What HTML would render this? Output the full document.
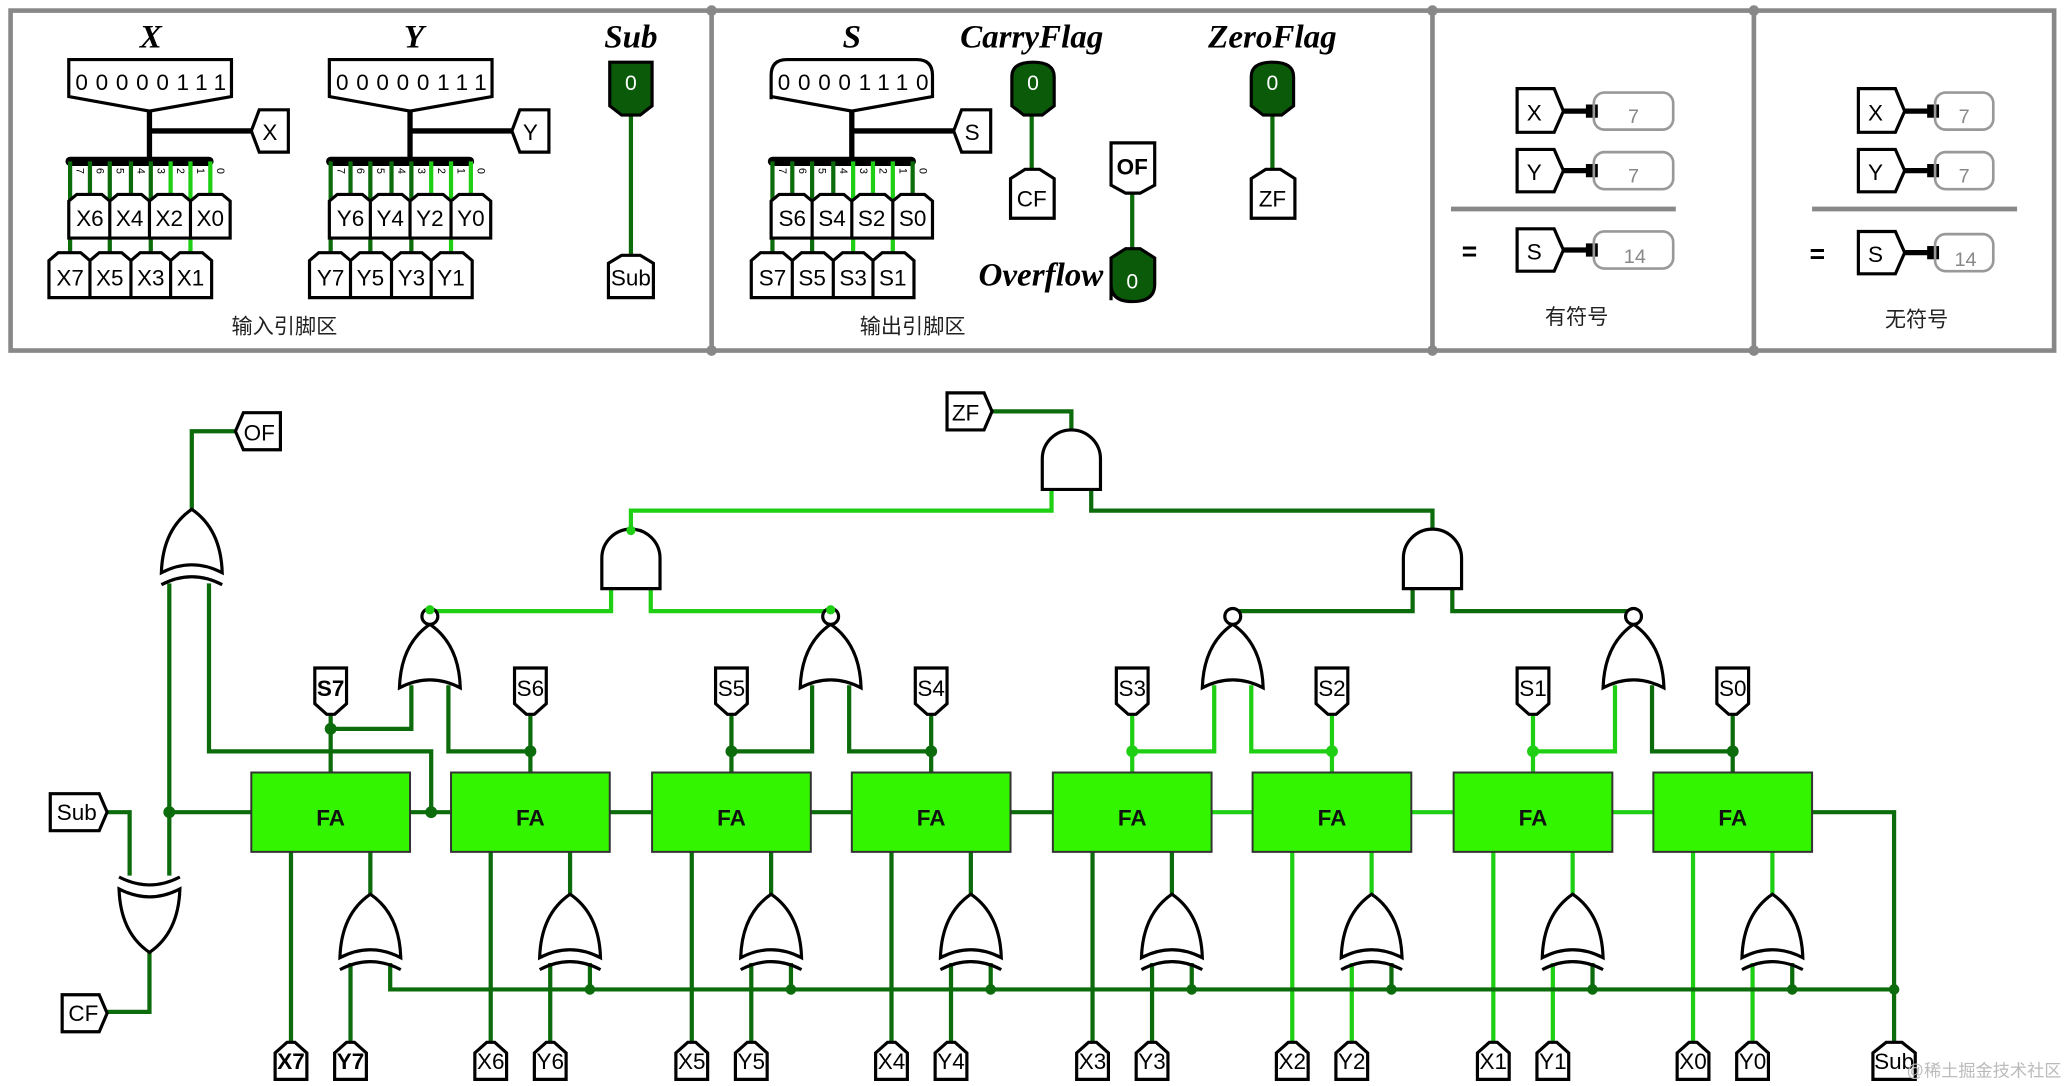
<!DOCTYPE html>
<html><head><meta charset="utf-8"><style>
html,body{margin:0;padding:0;background:#fff;}
svg{display:block;}
text{font-family:"Liberation Sans","Noto Sans CJK SC",sans-serif;}
.t{font-family:"Liberation Serif",serif;font-style:italic;font-weight:bold;font-size:25px;}
.p{font-size:17px;}
.d{stroke:#0c6c0c;stroke-width:3.2;fill:none;}
.b{stroke:#1ecf14;stroke-width:3.2;fill:none;}
.k{stroke:#000;stroke-width:2.4;fill:#fff;}
.bk{stroke:#000;stroke-width:4;fill:none;}
.fa{fill:#33f500;stroke:#333;stroke-width:1.5;}
.g{fill:#fff;stroke:#000;stroke-width:2.4;}
.n{font-size:8px;}
</style></head><body>
<svg width="2070" height="1086" viewBox="0 0 1565 821" preserveAspectRatio="none" xmlns="http://www.w3.org/2000/svg">
<defs>
<path id="or" d="M-23,48 Q0,36 23,48 Q22,15 0,0 Q-22,15 -23,48Z"/>
<path id="xa" d="M-23,57 Q0,45 23,57"/>
<path id="and" d="M-22,45 V22 A22,22 0 0 1 22,22 V45 Z"/>
</defs>
<!-- panel frame -->
<g stroke="#888" stroke-width="3.5" fill="none">
<rect x="8" y="8" width="1545" height="257"/>
<line x1="538" y1="8" x2="538" y2="265"/><line x1="1083" y1="8" x2="1083" y2="265"/><line x1="1326" y1="8" x2="1326" y2="265"/>
</g>
<g fill="#888"><circle cx="538" cy="8" r="4"/><circle cx="538" cy="265" r="4"/><circle cx="1083" cy="8" r="4"/><circle cx="1083" cy="265" r="4"/><circle cx="1326" cy="8" r="4"/><circle cx="1326" cy="265" r="4"/></g>

<!-- Panel 1 titles -->
<text class="t" x="114" y="36" text-anchor="middle">X</text>
<text class="t" x="313" y="36" text-anchor="middle">Y</text>
<text class="t" x="477" y="36" text-anchor="middle">Sub</text>
<text class="t" x="644" y="36" text-anchor="middle">S</text>
<text class="t" x="780" y="36" text-anchor="middle">CarryFlag</text>
<text class="t" x="962" y="36" text-anchor="middle">ZeroFlag</text>
<text class="t" x="787" y="216" text-anchor="middle">Overflow</text>

<!-- X group -->
<g>
<path class="k" d="M52,45 H175 V73 L113,84 L52,73 Z"/>
<text x="114" y="68" font-size="17" text-anchor="middle" textLength="114">00000111</text>
<path class="bk" d="M113,84 V122 M113,99 H190"/>
<path class="k" d="M190,99 L196,83 H218 V115 H196 Z"/><text class="p" x="204" y="106" text-anchor="middle">X</text>
<path stroke="#000" stroke-width="7" stroke-linecap="round" d="M53,122 H158"/>
<path class="d" d="M53,122 V191 M68,122 V147 M83,122 V191 M99,122 V147 M114,122 V191"/>
<path class="b" d="M129,122 V147 M144,122 V191 M159,122 V147"/>
<g class="n"><text x="56" y="129" transform="rotate(90 58 129)">7</text><text x="71" y="129" transform="rotate(90 73 129)">6</text><text x="86" y="129" transform="rotate(90 88 129)">5</text><text x="102" y="129" transform="rotate(90 104 129)">4</text><text x="117" y="129" transform="rotate(90 119 129)">3</text><text x="132" y="129" transform="rotate(90 134 129)">2</text><text x="147" y="129" transform="rotate(90 149 129)">1</text><text x="162" y="129" transform="rotate(90 164 129)">0</text></g>
<path class="k" d="M52,180 V152 L58,147 H77 L83,152 V180Z M83,180 V152 L89,147 H107 L113,152 V180Z M113,180 V152 L119,147 H138 L144,152 V180Z M144,180 V152 L150,147 H168 L174,152 V180Z"/>
<text class="p" x="68" y="171" text-anchor="middle">X6</text><text class="p" x="98" y="171" text-anchor="middle">X4</text><text class="p" x="128" y="171" text-anchor="middle">X2</text><text class="p" x="159" y="171" text-anchor="middle">X0</text>
<path class="k" d="M37,225 V197 L44,191 H61 L68,197 V225Z M68,225 V197 L75,191 H92 L99,197 V225Z M99,225 V197 L106,191 H122 L129,197 V225Z M129,225 V197 L136,191 H153 L160,197 V225Z"/>
<text class="p" x="53" y="216" text-anchor="middle">X7</text><text class="p" x="83" y="216" text-anchor="middle">X5</text><text class="p" x="114" y="216" text-anchor="middle">X3</text><text class="p" x="144" y="216" text-anchor="middle">X1</text>
</g>
<!-- Y group -->
<g transform="translate(197,0)">
<path class="k" d="M52,45 H175 V73 L113,84 L52,73 Z"/>
<text x="114" y="68" font-size="17" text-anchor="middle" textLength="114">00000111</text>
<path class="bk" d="M113,84 V122 M113,99 H190"/>
<path class="k" d="M190,99 L196,83 H218 V115 H196 Z"/><text class="p" x="204" y="106" text-anchor="middle">Y</text>
<path stroke="#000" stroke-width="7" stroke-linecap="round" d="M53,122 H158"/>
<path class="d" d="M53,122 V191 M68,122 V147 M83,122 V191 M99,122 V147 M114,122 V191"/>
<path class="b" d="M129,122 V147 M144,122 V191 M159,122 V147"/>
<g class="n"><text x="56" y="129" transform="rotate(90 58 129)">7</text><text x="71" y="129" transform="rotate(90 73 129)">6</text><text x="86" y="129" transform="rotate(90 88 129)">5</text><text x="102" y="129" transform="rotate(90 104 129)">4</text><text x="117" y="129" transform="rotate(90 119 129)">3</text><text x="132" y="129" transform="rotate(90 134 129)">2</text><text x="147" y="129" transform="rotate(90 149 129)">1</text><text x="162" y="129" transform="rotate(90 164 129)">0</text></g>
<path class="k" d="M52,180 V152 L58,147 H77 L83,152 V180Z M83,180 V152 L89,147 H107 L113,152 V180Z M113,180 V152 L119,147 H138 L144,152 V180Z M144,180 V152 L150,147 H168 L174,152 V180Z"/>
<text class="p" x="68" y="171" text-anchor="middle">Y6</text><text class="p" x="98" y="171" text-anchor="middle">Y4</text><text class="p" x="128" y="171" text-anchor="middle">Y2</text><text class="p" x="159" y="171" text-anchor="middle">Y0</text>
<path class="k" d="M37,225 V197 L44,191 H61 L68,197 V225Z M68,225 V197 L75,191 H92 L99,197 V225Z M99,225 V197 L106,191 H122 L129,197 V225Z M129,225 V197 L136,191 H153 L160,197 V225Z"/>
<text class="p" x="53" y="216" text-anchor="middle">Y7</text><text class="p" x="83" y="216" text-anchor="middle">Y5</text><text class="p" x="114" y="216" text-anchor="middle">Y3</text><text class="p" x="144" y="216" text-anchor="middle">Y1</text>
</g>
<!-- Sub -->
<path class="d" d="M477,87 V193"/>
<path d="M461,80 V47 H493 V80 L484,87 H470 Z" fill="#0a5a0a" stroke="#000" stroke-width="2.4"/>
<text x="477" y="68" font-size="16" fill="#fff" text-anchor="middle">0</text>
<path class="k" d="M460,225 V199 L470,193 H484 L494,199 V225 Z"/><text class="p" x="477" y="216" text-anchor="middle">Sub</text>
<text x="215" y="252" font-size="16" text-anchor="middle" fill="#222">输入引脚区</text>

<!-- S group -->
<g transform="translate(531,0)">
<path class="k" d="M52,75 V57 Q52,45 64,45 H162 Q174,45 174,57 V73 L113,84 L52,73 Z"/>
<text x="114" y="68" font-size="17" text-anchor="middle" textLength="114">00001110</text>
<path class="bk" d="M113,84 V122 M113,99 H190"/>
<path class="k" d="M190,99 L196,83 H218 V115 H196 Z"/><text class="p" x="204" y="106" text-anchor="middle">S</text>
<path stroke="#000" stroke-width="7" stroke-linecap="round" d="M53,122 H158"/>
<path class="d" d="M53,122 V191 M68,122 V147 M83,122 V191 M99,122 V147 M159,122 V147"/>
<path class="b" d="M114,122 V191 M129,122 V147 M144,122 V191"/>
<g class="n"><text x="56" y="129" transform="rotate(90 58 129)">7</text><text x="71" y="129" transform="rotate(90 73 129)">6</text><text x="86" y="129" transform="rotate(90 88 129)">5</text><text x="102" y="129" transform="rotate(90 104 129)">4</text><text x="117" y="129" transform="rotate(90 119 129)">3</text><text x="132" y="129" transform="rotate(90 134 129)">2</text><text x="147" y="129" transform="rotate(90 149 129)">1</text><text x="162" y="129" transform="rotate(90 164 129)">0</text></g>
<path class="k" d="M52,180 V152 L58,147 H77 L83,152 V180Z M83,180 V152 L89,147 H107 L113,152 V180Z M113,180 V152 L119,147 H138 L144,152 V180Z M144,180 V152 L150,147 H168 L174,152 V180Z"/>
<text class="p" x="68" y="171" text-anchor="middle">S6</text><text class="p" x="98" y="171" text-anchor="middle">S4</text><text class="p" x="128" y="171" text-anchor="middle">S2</text><text class="p" x="159" y="171" text-anchor="middle">S0</text>
<path class="k" d="M37,225 V197 L44,191 H61 L68,197 V225Z M68,225 V197 L75,191 H92 L99,197 V225Z M99,225 V197 L106,191 H122 L129,197 V225Z M129,225 V197 L136,191 H153 L160,197 V225Z"/>
<text class="p" x="53" y="216" text-anchor="middle">S7</text><text class="p" x="83" y="216" text-anchor="middle">S5</text><text class="p" x="114" y="216" text-anchor="middle">S3</text><text class="p" x="144" y="216" text-anchor="middle">S1</text>
</g>
<text x="690" y="252" font-size="16" text-anchor="middle" fill="#222">输出引脚区</text>
<!-- CF / ZF LEDs -->
<path class="d" d="M780,87 V130 M962,87 V130 M856,146 V188"/>
<path d="M765,80 V58 Q765,47 781,47 Q797,47 797,58 V80 L788,87 H774 Z" fill="#0a5a0a" stroke="#000" stroke-width="2.4"/>
<text x="781" y="68" font-size="16" fill="#fff" text-anchor="middle">0</text>
<path class="k" d="M764,165 V135 L775,128 H786 L797,135 V165 Z"/><text class="p" x="780" y="156" text-anchor="middle">CF</text>
<path d="M946,80 V58 Q946,47 962,47 Q978,47 978,58 V80 L969,87 H955 Z" fill="#0a5a0a" stroke="#000" stroke-width="2.4"/>
<text x="962" y="68" font-size="16" fill="#fff" text-anchor="middle">0</text>
<path class="k" d="M946,165 V135 L957,128 H968 L979,135 V165 Z"/><text class="p" x="962" y="156" text-anchor="middle">ZF</text>
<path class="k" d="M840,108 H873 V140 L862,146 H851 L840,140 Z"/><text x="856" y="132" font-size="17" font-weight="bold" text-anchor="middle">OF</text>
<path d="M840,227 V195 L851,188 H862 L873,195 V215 Q873,228 856,228 Q840,228 840,215 Z" fill="#0a5a0a" stroke="#000" stroke-width="2.4"/>
<text x="856" y="218" font-size="16" fill="#fff" text-anchor="middle">0</text>

<!-- Panel 3 -->
<g>
<path class="k" d="M1147,67 H1175 L1182,84 L1175,100 H1147 Z"/><text class="p" x="1160" y="91" text-anchor="middle">X</text>
<path class="bk" d="M1182,84 H1203"/><rect x="1199" y="79" width="9" height="10"/>
<rect x="1205" y="70" width="60" height="28" rx="8" fill="none" stroke="#999" stroke-width="2"/><text x="1235" y="93" font-size="15" fill="#888" text-anchor="middle">7</text>
<path class="k" d="M1147,113 H1175 L1182,129 L1175,145 H1147 Z"/><text class="p" x="1160" y="136" text-anchor="middle">Y</text>
<path class="bk" d="M1182,129 H1203"/><rect x="1199" y="124" width="9" height="10"/>
<rect x="1205" y="115" width="60" height="28" rx="8" fill="none" stroke="#999" stroke-width="2"/><text x="1235" y="138" font-size="15" fill="#888" text-anchor="middle">7</text>
<path stroke="#888" stroke-width="3.5" d="M1097,158 H1267"/>
<text x="1111" y="197" font-size="20" font-weight="bold" text-anchor="middle">=</text>
<path class="k" d="M1147,173 H1175 L1182,189 L1175,205 H1147 Z"/><text class="p" x="1160" y="196" text-anchor="middle">S</text>
<path class="bk" d="M1182,189 H1203"/><rect x="1199" y="184" width="9" height="10"/>
<rect x="1205" y="175" width="60" height="28" rx="8" fill="none" stroke="#999" stroke-width="2"/><text x="1236" y="199" font-size="15" fill="#888" text-anchor="middle">14</text>
<text x="1192" y="245" font-size="16" text-anchor="middle" fill="#222">有符号</text>
</g>
<!-- Panel 4 -->
<g>
<path class="k" d="M1405,67 H1433 L1440,84 L1433,100 H1405 Z"/><text class="p" x="1418" y="91" text-anchor="middle">X</text>
<path class="bk" d="M1440,84 H1461"/><rect x="1457" y="79" width="9" height="10"/>
<rect x="1463" y="70" width="44" height="28" rx="8" fill="none" stroke="#999" stroke-width="2"/><text x="1485" y="93" font-size="15" fill="#888" text-anchor="middle">7</text>
<path class="k" d="M1405,113 H1433 L1440,129 L1433,145 H1405 Z"/><text class="p" x="1418" y="136" text-anchor="middle">Y</text>
<path class="bk" d="M1440,129 H1461"/><rect x="1457" y="124" width="9" height="10"/>
<rect x="1463" y="115" width="44" height="28" rx="8" fill="none" stroke="#999" stroke-width="2"/><text x="1485" y="138" font-size="15" fill="#888" text-anchor="middle">7</text>
<path stroke="#888" stroke-width="3.5" d="M1370,158 H1525"/>
<text x="1374" y="199" font-size="20" font-weight="bold" text-anchor="middle">=</text>
<path class="k" d="M1405,175 H1433 L1440,191 L1433,207 H1405 Z"/><text class="p" x="1418" y="198" text-anchor="middle">S</text>
<path class="bk" d="M1440,191 H1461"/><rect x="1457" y="186" width="9" height="10"/>
<rect x="1463" y="177" width="44" height="28" rx="8" fill="none" stroke="#999" stroke-width="2"/><text x="1486" y="201" font-size="15" fill="#888" text-anchor="middle">14</text>
<text x="1449" y="247" font-size="16" text-anchor="middle" fill="#222">无符号</text>
</g>

<!-- ===== main circuit wires ===== -->
<!-- bottom: X inputs, Y inputs, XOR outputs, bus taps -->
<path class="d" d="M220,644 V788 M371,644 V788 M523,644 V788 M674,644 V788 M826,644 V788"/>
<path class="b" d="M977,644 V788 M1129,644 V788 M1280,644 V788"/>
<path class="d" d="M265,788 V728 M416,788 V728 M568,788 V728 M719,788 V728 M871,788 V728"/>
<path class="b" d="M1022,788 V728 M1174,788 V728 M1325,788 V728"/>
<path class="d" d="M280,676 V644 M431,676 V644 M583,676 V644 M734,676 V644 M886,676 V644"/>
<path class="b" d="M1037,676 V644 M1189,676 V644 M1340,676 V644"/>
<path class="d" d="M295,728 V748 H1432 V614 H1370 M446,728 V748 M598,728 V748 M749,728 V748 M901,728 V748 M1052,728 V748 M1204,728 V748 M1355,728 V748 M1432,748 V788"/>
<g fill="#0c6c0c"><circle cx="446" cy="748" r="4"/><circle cx="598" cy="748" r="4"/><circle cx="749" cy="748" r="4"/><circle cx="901" cy="748" r="4"/><circle cx="1052" cy="748" r="4"/><circle cx="1204" cy="748" r="4"/><circle cx="1355" cy="748" r="4"/><circle cx="1432" cy="748" r="4"/></g>
<!-- carries -->
<path class="d" d="M310,614 H341 M461,614 H493 M613,614 H644 M764,614 H796"/>
<path class="b" d="M916,614 H947 M1067,614 H1099 M1219,614 H1250"/>
<!-- S outputs -->
<path class="d" d="M250,584 V540 M401,584 V540 M553,584 V540 M704,584 V540 M1310,584 V540"/>
<path class="b" d="M856,584 V540 M1007,584 V540 M1159,584 V540"/>
<!-- NOR inputs -->
<path class="d" d="M250,551 H311 V518 M401,568 H339 V518 M553,568 H614 V518 M704,568 H642 V518 M1310,568 H1249 V518"/>
<path class="b" d="M856,568 H918 V518 M1007,568 H946 V518 M1159,568 H1221 V518"/>
<g fill="#0c6c0c"><circle cx="250" cy="551" r="4.5"/><circle cx="401" cy="568" r="4.5"/><circle cx="553" cy="568" r="4.5"/><circle cx="704" cy="568" r="4.5"/><circle cx="1310" cy="568" r="4.5"/><circle cx="326" cy="614" r="4.5"/><circle cx="128" cy="614" r="4.5"/></g>
<g fill="#1ecf14"><circle cx="856" cy="568" r="4.5"/><circle cx="1007" cy="568" r="4.5"/><circle cx="1159" cy="568" r="4.5"/></g>
<!-- NOR outputs / AND tree -->
<path class="b" d="M325,462 H462 V445 M628,462 H492 V445 M477,400 V386 H795 V370"/>
<path class="d" d="M932,462 H1068 V445 M1235,462 H1098 V445 M1083,400 V386 H825 V370 M810,325 V311 H750"/>
<!-- overflow / carry flag -->
<path class="d" d="M145,385 V326 H178 M128,441 V662 M158,441 V568 H326 V614 M128,614 H190 M80,614 H98 V662 M113,720 V765 H80"/>

<!-- FA blocks -->
<g>
<rect class="fa" x="190" y="584" width="120" height="60"/><rect class="fa" x="341" y="584" width="120" height="60"/><rect class="fa" x="493" y="584" width="120" height="60"/><rect class="fa" x="644" y="584" width="120" height="60"/><rect class="fa" x="796" y="584" width="120" height="60"/><rect class="fa" x="947" y="584" width="120" height="60"/><rect class="fa" x="1099" y="584" width="120" height="60"/><rect class="fa" x="1250" y="584" width="120" height="60"/>
</g>
<g font-size="17" font-weight="bold" text-anchor="middle" fill="#111">
<text x="250" y="624">FA</text><text x="401" y="624">FA</text><text x="553" y="624">FA</text><text x="704" y="624">FA</text><text x="856" y="624">FA</text><text x="1007" y="624">FA</text><text x="1159" y="624">FA</text><text x="1310" y="624">FA</text>
</g>
<!-- XOR gates under FA -->
<g class="g">
<use href="#or" x="280" y="676"/><use href="#or" x="431" y="676"/><use href="#or" x="583" y="676"/><use href="#or" x="734" y="676"/><use href="#or" x="886" y="676"/><use href="#or" x="1037" y="676"/><use href="#or" x="1189" y="676"/><use href="#or" x="1340" y="676"/>
</g>
<g fill="none" stroke="#000" stroke-width="2.4">
<use href="#xa" x="280" y="676"/><use href="#xa" x="431" y="676"/><use href="#xa" x="583" y="676"/><use href="#xa" x="734" y="676"/><use href="#xa" x="886" y="676"/><use href="#xa" x="1037" y="676"/><use href="#xa" x="1189" y="676"/><use href="#xa" x="1340" y="676"/>
<use href="#xa" x="145" y="385"/>
<use href="#xa" transform="translate(113,720) rotate(180)"/>
</g>
<!-- NOR gates -->
<g class="g">
<use href="#or" x="325" y="472"/><use href="#or" x="628" y="472"/><use href="#or" x="932" y="472"/><use href="#or" x="1235" y="472"/>
<circle cx="325" cy="466" r="6"/><circle cx="628" cy="466" r="6"/><circle cx="932" cy="466" r="6"/><circle cx="1235" cy="466" r="6"/>
<use href="#and" x="477" y="400"/><use href="#and" x="1083" y="400"/><use href="#and" x="810" y="325"/>
<use href="#or" x="145" y="385"/>
<use href="#or" transform="translate(113,720) rotate(180)"/>
</g>
<g fill="#1ecf14"><circle cx="325" cy="461" r="3.5"/><circle cx="628" cy="461" r="3.5"/><circle cx="477" cy="401" r="3.5"/></g>

<!-- main pins -->
<g class="k">
<path d="M238,505 H262 V532 L253,540 H247 L238,532 Z"/><path d="M389,505 H413 V532 L404,540 H398 L389,532 Z"/><path d="M541,505 H565 V532 L556,540 H550 L541,532 Z"/><path d="M692,505 H716 V532 L707,540 H701 L692,532 Z"/><path d="M844,505 H868 V532 L859,540 H853 L844,532 Z"/><path d="M995,505 H1019 V532 L1010,540 H1004 L995,532 Z"/><path d="M1147,505 H1171 V532 L1162,540 H1156 L1147,532 Z"/><path d="M1298,505 H1322 V532 L1313,540 H1307 L1298,532 Z"/>
<path d="M208,816 V796 L217,788 H223 L232,796 V816 Z"/><path d="M253,816 V796 L262,788 H268 L277,796 V816 Z"/>
<path d="M359,816 V796 L368,788 H374 L383,796 V816 Z"/><path d="M404,816 V796 L413,788 H419 L428,796 V816 Z"/>
<path d="M511,816 V796 L520,788 H526 L535,796 V816 Z"/><path d="M556,816 V796 L565,788 H571 L580,796 V816 Z"/>
<path d="M662,816 V796 L671,788 H677 L686,796 V816 Z"/><path d="M707,816 V796 L716,788 H722 L731,796 V816 Z"/>
<path d="M814,816 V796 L823,788 H829 L838,796 V816 Z"/><path d="M859,816 V796 L868,788 H874 L883,796 V816 Z"/>
<path d="M965,816 V796 L974,788 H980 L989,796 V816 Z"/><path d="M1010,816 V796 L1019,788 H1025 L1034,796 V816 Z"/>
<path d="M1117,816 V796 L1126,788 H1132 L1141,796 V816 Z"/><path d="M1162,816 V796 L1171,788 H1177 L1186,796 V816 Z"/>
<path d="M1268,816 V796 L1277,788 H1283 L1292,796 V816 Z"/><path d="M1313,816 V796 L1322,788 H1328 L1337,796 V816 Z"/>
<path d="M1416,816 V796 L1426,788 H1438 L1448,796 V816 Z"/>
<path d="M38,600 H75 L81,614 L75,628 H38 Z"/>
<path d="M47,752 H75 L81,766 L75,780 H47 Z"/>
<path d="M178,326 L184,312 H212 V340 H184 Z"/>
<path d="M716,297 H744 L750,311 L744,325 H716 Z"/>
</g>
<g class="p" text-anchor="middle">
<text x="250" y="526" font-weight="bold">S7</text><text x="401" y="526">S6</text><text x="553" y="526">S5</text><text x="704" y="526">S4</text><text x="856" y="526">S3</text><text x="1007" y="526">S2</text><text x="1159" y="526">S1</text><text x="1310" y="526">S0</text>
<text x="220" y="808" font-weight="bold">X7</text><text x="265" y="808" font-weight="bold">Y7</text>
<text x="371" y="808">X6</text><text x="416" y="808">Y6</text>
<text x="523" y="808">X5</text><text x="568" y="808">Y5</text>
<text x="674" y="808">X4</text><text x="719" y="808">Y4</text>
<text x="826" y="808">X3</text><text x="871" y="808">Y3</text>
<text x="977" y="808">X2</text><text x="1022" y="808">Y2</text>
<text x="1129" y="808">X1</text><text x="1174" y="808">Y1</text>
<text x="1280" y="808">X0</text><text x="1325" y="808">Y0</text>
<text x="1432" y="808">Sub</text>
<text x="58" y="620">Sub</text>
<text x="63" y="772">CF</text>
<text x="196" y="333">OF</text>
<text x="730" y="318">ZF</text>
</g>
<text x="1500" y="814" font-size="13" fill="#bbb" text-anchor="middle">@稀土掘金技术社区</text>
</svg>
</body></html>
